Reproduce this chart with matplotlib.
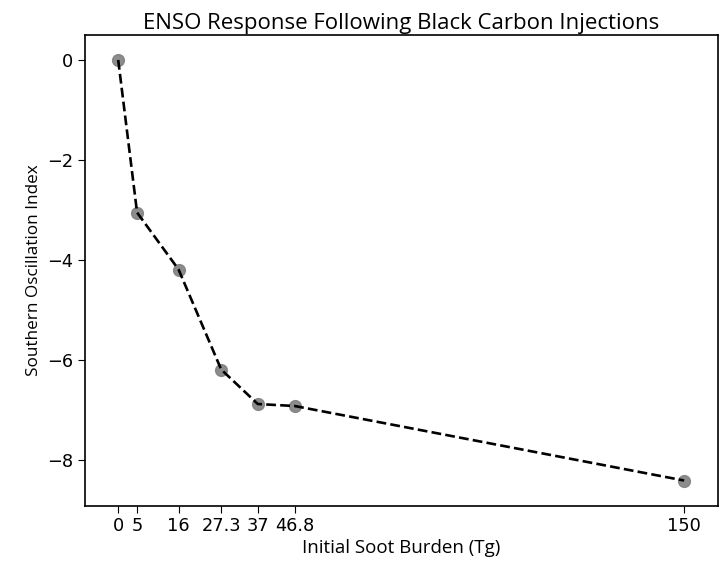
import matplotlib
matplotlib.use("Agg")
import matplotlib.pyplot as plt

# soot burden (Tg) and SOI response
soot = [0, 5, 16, 27.3, 37, 46.8, 150]
soi = [0, -3.05, -4.19, -6.19, -6.88, -6.92, -8.41]
tick_labels = ["0", "5", "16", "27.3", "37", "46.8", "150"]

fig = plt.figure(figsize=(7.21, 5.61), dpi=100)
ax = fig.add_axes([0.1179, 0.0989, 0.8775, 0.8387])

ax.plot(soot, soi, "o", color="gray", markersize=8.5, alpha=0.9, zorder=2)
ax.plot(soot, soi, "k--", linewidth=1.9, zorder=3)

ax.set_xticks(soot)
ax.set_xticklabels(tick_labels)
ax.set_xlim(-8.8, 158.9)
ax.set_ylim(-8.91, 0.5)
ax.tick_params(labelsize=12.8, length=5)

ax.set_xlabel("Initial Soot Burden (Tg)", fontsize=13.5, family="Open Sans", labelpad=3)
ax.set_ylabel("Southern Oscillation Index", fontsize=12.3, family="Open Sans")
ax.set_title("ENSO Response Following Black Carbon Injections", fontsize=16, family="Open Sans", pad=4)

for s in ax.spines.values():
    s.set_linewidth(1.2)

fig.savefig("out.png", dpi=100)
